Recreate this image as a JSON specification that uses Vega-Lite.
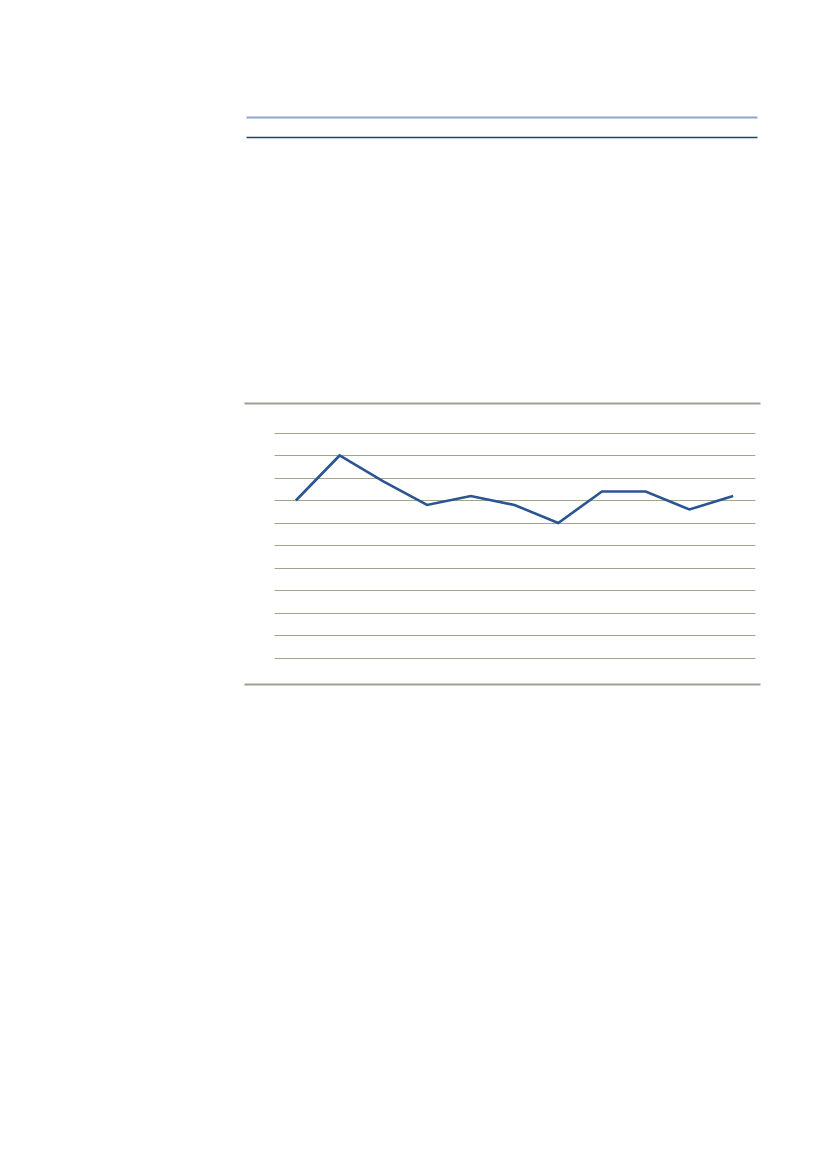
{
  "$schema": "https://vega.github.io/schema/vega-lite/v6.json",
  "background": "white",
  "padding": {"left": 274, "top": 117, "right": 5, "bottom": 5},
  "width": 481,
  "height": 281,
  "data": {
    "values": [
      {"i": 0, "value": 70},
      {"i": 1, "value": 90},
      {"i": 2, "value": 78.5},
      {"i": 3, "value": 68},
      {"i": 4, "value": 72},
      {"i": 5, "value": 68},
      {"i": 6, "value": 60},
      {"i": 7, "value": 74},
      {"i": 8, "value": 74},
      {"i": 9, "value": 66},
      {"i": 10, "value": 72}
    ]
  },
  "layer": [
    {
      "mark": {"type": "line", "color": "#2a5592", "strokeWidth": 2.6, "strokeJoin": "miter"},
      "encoding": {
        "x": {
          "field": "i",
          "type": "quantitative",
          "scale": {"domain": [-0.5, 10.5], "nice": false, "zero": false},
          "axis": null
        },
        "y": {
          "field": "value",
          "type": "quantitative",
          "scale": {"domain": [-11.56, 113.33], "nice": false, "zero": false},
          "axis": {
            "values": [0, 10, 20, 30, 40, 50, 60, 70, 80, 90, 100],
            "grid": true,
            "gridColor": "#a3a38e",
            "gridWidth": 1.2,
            "domain": false,
            "ticks": false,
            "labels": false,
            "title": null
          }
        }
      }
    },
    {
      "mark": {"type": "point", "opacity": 0},
      "encoding": {
        "x": {
          "field": "i",
          "type": "quantitative",
          "scale": {"domain": [-1.187, 10.594], "range": [-30, 486], "nice": false, "zero": false},
          "axis": {"orient": "bottom", "labels": false, "ticks": false, "grid": false, "title": null, "domainColor": "#a0a094", "domainWidth": 2}
        },
        "y": {"field": "value", "type": "quantitative", "axis": null}
      }
    },
    {
      "mark": {"type": "point", "opacity": 0},
      "encoding": {
        "x": {
          "field": "i",
          "type": "quantitative",
          "scale": {"domain": [-1.187, 10.594], "range": [-30, 486], "nice": false, "zero": false},
          "axis": {"orient": "top", "offset": 0, "labels": false, "ticks": false, "grid": false, "title": null, "domainColor": "#a0a094", "domainWidth": 2}
        },
        "y": {"field": "value", "type": "quantitative", "axis": null}
      }
    },
    {
      "mark": {"type": "point", "opacity": 0},
      "encoding": {
        "x": {
          "field": "i",
          "type": "quantitative",
          "scale": {"domain": [-1.142, 10.525], "range": [-28, 483], "nice": false, "zero": false},
          "axis": {"orient": "top", "offset": 266, "labels": false, "ticks": false, "grid": false, "title": null, "domainColor": "#23406f", "domainWidth": 1.5}
        },
        "y": {"field": "value", "type": "quantitative", "axis": null}
      }
    },
    {
      "mark": {"type": "point", "opacity": 0},
      "encoding": {
        "x": {
          "field": "i",
          "type": "quantitative",
          "scale": {"domain": [-1.142, 10.525], "range": [-28, 483], "nice": false, "zero": false},
          "axis": {"orient": "top", "offset": 286, "labels": false, "ticks": false, "grid": false, "title": null, "domainColor": "#8ea8cb", "domainWidth": 2}
        },
        "y": {"field": "value", "type": "quantitative", "axis": null}
      }
    }
  ],
  "resolve": {
    "scale": {"x": "independent", "y": "independent"},
    "axis": {"x": "independent", "y": "independent"}
  },
  "config": {
    "view": {"stroke": null}
  }
}
